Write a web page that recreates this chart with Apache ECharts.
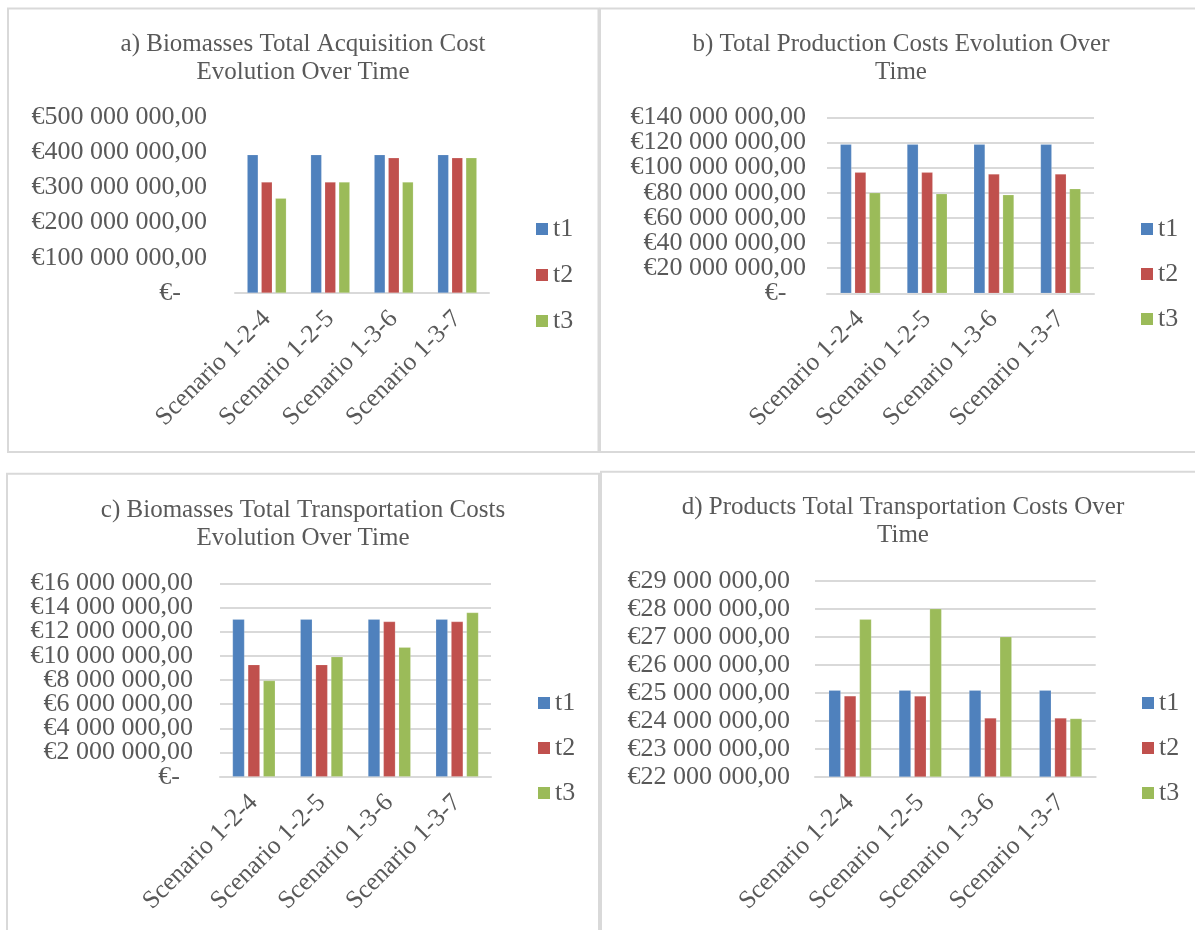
<!DOCTYPE html>
<html><head><meta charset="utf-8">
<script src="https://cdn.jsdelivr.net/npm/echarts@6/dist/echarts.min.js"></script>
<style>html,body{margin:0;padding:0;background:#fff}#c{width:1195px;height:930px}</style>
</head><body><div id="c"></div><script>
// ---------- data ----------
const categories = ['Scenario 1-2-4', 'Scenario 1-2-5', 'Scenario 1-3-6', 'Scenario 1-3-7'];
const seriesNames = ['t1', 't2', 't3'];

const titleA = 'a) Biomasses Total Acquisition Cost\nEvolution Over Time';
const acquisitionT1 = [393e6, 393e6, 393e6, 393e6];
const acquisitionT2 = [315e6, 315e6, 384e6, 384e6];
const acquisitionT3 = [269e6, 315e6, 315e6, 384e6];
const ticksA = [0, 100e6, 200e6, 300e6, 400e6, 500e6];

const titleB = 'b) Total Production Costs Evolution Over\nTime';
const productionT1 = [118.5e6, 118.5e6, 118.5e6, 118.5e6];
const productionT2 = [96.2e6, 96.2e6, 94.9e6, 94.9e6];
const productionT3 = [80.0e6, 79.2e6, 78.4e6, 83.2e6];
const ticksB = [0, 20e6, 40e6, 60e6, 80e6, 100e6, 120e6, 140e6];

const titleC = 'c) Biomasses Total Transportation Costs\nEvolution Over Time';
const bioTransportT1 = [13.03e6, 13.03e6, 13.03e6, 13.03e6];
const bioTransportT2 = [9.27e6, 9.27e6, 12.83e6, 12.83e6];
const bioTransportT3 = [7.95e6, 9.93e6, 10.71e6, 13.58e6];
const ticksC = [0, 2e6, 4e6, 6e6, 8e6, 10e6, 12e6, 14e6, 16e6];

const titleD = 'd) Products Total Transportation Costs Over\nTime';
const prodTransportT1 = [25.09e6, 25.09e6, 25.09e6, 25.09e6];
const prodTransportT2 = [24.89e6, 24.89e6, 24.10e6, 24.10e6];
const prodTransportT3 = [27.63e6, 28.01e6, 27.01e6, 24.08e6];
const ticksD = [22e6, 23e6, 24e6, 25e6, 26e6, 27e6, 28e6, 29e6];

// ---------- styling / layout ----------
const FONT = 'Liberation Serif';
const TXT = '#595959';
const GRIDC = '#d9d9d9';
const COLORS = ['#4f81bd', '#c0504d', '#9bbb59'];

const panels = [
  { title: titleA, data: [acquisitionT1, acquisitionT2, acquisitionT3], ticks: ticksA,
    grid: { left: 235, top: 117, width: 254, height: 176 }, split: false, zeroPad: '\u00a0\u00a0\u00a0\u00a0',
    labelMargin: 28, barWidth: 11, titleX: 303, titleY: 30, legend: { left: 531, top: 211, gap: 20 }, box: [8, 8.5, 590.5, 443.5] },
  { title: titleB, data: [productionT1, productionT2, productionT3], ticks: ticksB,
    grid: { left: 827, top: 117.3, width: 267, height: 176 }, split: true, zeroPad: '\u00a0\u00a0\u00a0',
    labelMargin: 21, barWidth: 11.3, titleX: 901, titleY: 30, legend: { left: 1136, top: 211, gap: 19 }, box: [600, 8.5, 620, 443.5] },
  { title: titleC, data: [bioTransportT1, bioTransportT2, bioTransportT3], ticks: ticksC,
    grid: { left: 220, top: 583.3, width: 271, height: 193.4 }, split: true, zeroPad: '\u00a0\u00a0',
    labelMargin: 27, barWidth: 12, titleX: 303, titleY: 496, legend: { left: 533, top: 685, gap: 19 }, box: [7, 473.7, 592, 480] },
  { title: titleD, data: [prodTransportT1, prodTransportT2, prodTransportT3], ticks: ticksD,
    grid: { left: 815, top: 581, width: 280.7, height: 195.7 }, split: true, zeroPad: '',
    labelMargin: 25, barWidth: 12, titleX: 903, titleY: 493, legend: { left: 1137, top: 685, gap: 19 }, box: [601, 471.7, 620, 480] }
];

function euro(v, zeroPad) {
  if (v === 0) return '€-' + zeroPad;
  const s = Math.round(v).toString().replace(/\B(?=(\d{3})+(?!\d))/g, ' ');
  return '€' + s + ',00';
}

const option = {
  animation: false,
  backgroundColor: '#fff',
  grid: [], xAxis: [], yAxis: [], series: [], legend: [], graphic: []
};

panels.forEach((p, i) => {
  option.graphic.push({
    type: 'rect', z: 0, silent: true,
    shape: { x: p.box[0], y: p.box[1], width: p.box[2], height: p.box[3] },
    style: { fill: 'none', stroke: GRIDC, lineWidth: 2 }
  });
  option.graphic.push({
    type: 'text', z: 10, silent: true, x: p.titleX, y: p.titleY,
    style: { text: p.title, fill: TXT, font: '25px "' + FONT + '"', fontSize: 25, fontFamily: FONT,
             align: 'center', textAlign: 'center', verticalAlign: 'top', textVerticalAlign: 'top', lineHeight: 28 }
  });
  option.grid.push(Object.assign({ containLabel: false }, p.grid));
  option.xAxis.push({
    type: 'category', gridIndex: i, data: categories,
    axisTick: { show: false },
    axisLine: { lineStyle: { color: GRIDC, width: 2 } },
    axisLabel: { interval: 0, rotate: 45, margin: 22, color: TXT, fontFamily: FONT, fontSize: 25.5 }
  });
  const t = p.ticks;
  // two label layers (even / odd ticks) on the same scale so that ECharts does not drop tight labels
  [0, 1].forEach((parity) => {
    option.yAxis.push({
      type: 'value', gridIndex: i, position: 'left', offset: 0,
      min: t[0], max: t[t.length - 1], interval: t[1] - t[0],
      axisLine: { show: false }, axisTick: { show: false },
      splitLine: { show: parity === 0 && p.split, lineStyle: { color: GRIDC, width: 2 } },
      axisLabel: { margin: p.labelMargin, color: TXT, fontFamily: FONT, fontSize: 26,
                   customValues: t.filter((_, j) => j % 2 === parity),
                   formatter: (v) => euro(v, p.zeroPad) }
    });
  });
  seriesNames.forEach((name, k) => {
    option.series.push({
      type: 'bar', name: name, xAxisIndex: i, yAxisIndex: 2 * i, data: p.data[k],
      barWidth: p.barWidth, barGap: '28%',
      itemStyle: { color: COLORS[k], borderColor: 'rgba(255,255,255,0.35)', borderWidth: 0.5 }
    });
  });
  option.legend.push({
    orient: 'vertical', left: p.legend.left, top: p.legend.top, itemGap: p.legend.gap,
    icon: 'rect', itemWidth: 12, itemHeight: 12, itemStyle: { borderWidth: 0 },
    data: seriesNames,
    textStyle: { color: TXT, fontFamily: FONT, fontSize: 26, lineHeight: 25 }
  });
});

const chart = echarts.init(document.getElementById('c'), null, { renderer: 'canvas' });
chart.setOption(option);
</script></body></html>
